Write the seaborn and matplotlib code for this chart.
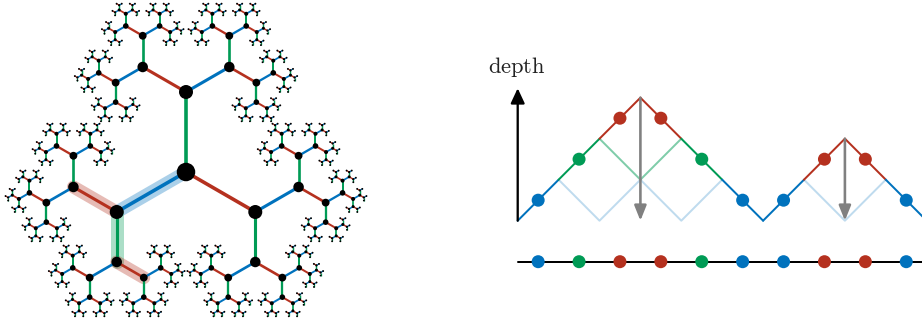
import numpy as np
import pandas as pd
import matplotlib
matplotlib.use("Agg")
import matplotlib.pyplot as plt
import seaborn as sns
from matplotlib.collections import LineCollection

sns.set_theme(style="white")
plt.rcParams["mathtext.fontset"] = "cm"

BLUE, RED, GREEN, GRAY = "#0072BD", "#B5311F", "#009B55", "#808080"
palette = {"blue": BLUE, "red": RED, "green": GREEN}

# ---- Bethe lattice (3-edge-coloured binary branching tree) ----
n_levels = 8            # edge generations drawn
root_xy = (186.0, 150.0)
root_length = 80.0
shrink = 0.625          # edge length ratio between generations
node_diam = [18.5, 14.0, 10.5, 7.8, 5.6, 4.0, 3.0, 2.3, 1.9]  # px per generation
edge_w0, edge_shrink = 3.6, 0.86    # edge width (px) and its ratio
# highlighted walk, each edge given by its colour path from the root
highlight_paths = [("blue",), ("blue", "red"), ("blue", "green"),
                   ("blue", "green", "red")]

# ---- Dyck path / depth profile ----
path_heights = [0, 1, 2, 3, 2, 1, 0, 1, 2, 1, 0]
step_colors = ["blue", "green", "red", "red", "green",
               "blue", "blue", "red", "red", "blue"]
shadow_paths = [
    ("blue", [1, 2, 3, 4, 5], [1, 0, 1, 0, 1]),
    ("green", [2, 3, 4], [2, 1, 2]),
    ("blue", [7, 8, 9], [1, 0, 1]),
]
shadow_alpha = {"blue": 0.25, "green": 0.5}
peak_steps = [3, 8]
peak_heights = [3, 2]
axis_top = 3.23
line_level = -1

PX = 0.72  # points per pixel at dpi 100

fig = plt.figure(figsize=(9.22, 3.22), dpi=100)

# ------------------------------------------------------------------ tree
axL = fig.add_axes([0, 0, 480 / 922, 1])
axL.set_xlim(0, 480)
axL.set_ylim(0, 322)
axL.axis("off")

c30 = np.cos(np.radians(30))
unit = {"green": (0.0, 1.0), "blue": (c30, 0.5), "red": (c30, -0.5)}
sign = {True: {"green": 1, "blue": -1, "red": 1},     # Y-shaped node
        False: {"green": -1, "blue": 1, "red": -1}}   # inverted Y

edges, nodes = [], [dict(x=root_xy[0], y=root_xy[1], level=0)]


def grow(x, y, y_shape, came_from, level, path):
    length = root_length * shrink ** level
    for color in ("green", "blue", "red"):
        if color == came_from:
            continue
        s = sign[y_shape][color]
        cx = x + s * length * unit[color][0]
        cy = y + s * length * unit[color][1]
        edges.append(dict(x0=x, y0=y, x1=cx, y1=cy, level=level,
                          color=color, path=path + (color,)))
        nodes.append(dict(x=cx, y=cy, level=level + 1))
        if level + 1 < n_levels:
            grow(cx, cy, not y_shape, color, level + 1, path + (color,))


grow(root_xy[0], root_xy[1], True, None, 0, ())
edge_df = pd.DataFrame(edges)
node_df = pd.DataFrame(nodes)

# translucent bands under the highlighted walk
hl = edge_df[edge_df["path"].isin(highlight_paths)]
axL.add_collection(LineCollection(
    [[(r.x0, r.y0), (r.x1, r.y1)] for r in hl.itertuples()],
    colors=[palette[c] for c in hl["color"]], linewidths=13 * PX,
    alpha=0.33, capstyle="round", zorder=1))

# coloured edges, thinner with each generation
axL.add_collection(LineCollection(
    [[(r.x0, r.y0), (r.x1, r.y1)] for r in edge_df.itertuples()],
    colors=[palette[c] for c in edge_df["color"]],
    linewidths=[edge_w0 * edge_shrink ** l * PX for l in edge_df["level"]],
    capstyle="butt", zorder=2))

# black nodes
size_map = {l: (node_diam[l] * PX) ** 2
            for l in sorted(node_df["level"].unique())}
sns.scatterplot(data=node_df, x="x", y="y", size="level", sizes=size_map,
                color="black", edgecolor="none", legend=False, ax=axL,
                zorder=3)
axL.set_xlabel("")
axL.set_ylabel("")

# ----------------------------------------------------------- depth profile
axR = fig.add_axes([480 / 922, 0, 442 / 922, 1])
axR.set_xlim(-0.922, 9.885)
axR.set_ylim(-2.471, 5.383)
axR.axis("off")

for color, xs, hs in shadow_paths:
    axR.plot(xs, hs, color=palette[color], alpha=shadow_alpha[color],
             lw=2 * PX, solid_capstyle="butt", zorder=1)

steps = np.arange(len(step_colors))
for k in steps:
    axR.plot([k, k + 1], [path_heights[k], path_heights[k + 1]],
             color=palette[step_colors[k]], lw=2 * PX,
             solid_capstyle="round", zorder=2)

# arrows from each peak down to the baseline
for xk, hk in zip(peak_steps, peak_heights):
    axR.annotate("", xy=(xk, 0), xytext=(xk, hk),
                 arrowprops=dict(arrowstyle="-|>,head_length=0.75,head_width=0.3",
                                 color=GRAY, lw=2.6 * PX, shrinkA=0, shrinkB=0),
                 zorder=3)

# depth axis
axR.annotate("", xy=(0, axis_top), xytext=(0, 0),
             arrowprops=dict(arrowstyle="-|>,head_length=0.75,head_width=0.35",
                             color="black", lw=2.3 * PX, shrinkA=0, shrinkB=0),
             zorder=3)
axR.text(-0.025, 3.595, r"$\mathrm{depth}$", ha="center", va="baseline",
         fontsize=16.2, color="#222222")

# step markers on the profile and on the flattened line
mid = pd.DataFrame({
    "x": steps + 0.5,
    "h": [(path_heights[k] + path_heights[k + 1]) / 2 for k in steps],
    "color": step_colors,
})
axR.plot([0, 12], [line_level, line_level], color="black", lw=2 * PX, zorder=2)
dot_s = (13 * PX) ** 2
sns.scatterplot(data=mid, x="x", y="h", hue="color", palette=palette,
                s=dot_s, edgecolor="none", legend=False, ax=axR, zorder=4)
sns.scatterplot(data=mid.assign(h=line_level), x="x", y="h", hue="color",
                palette=palette, s=dot_s, edgecolor="none", legend=False,
                ax=axR, zorder=4)
axR.set_xlabel("")
axR.set_ylabel("")

fig.savefig("out.png", dpi=100)
